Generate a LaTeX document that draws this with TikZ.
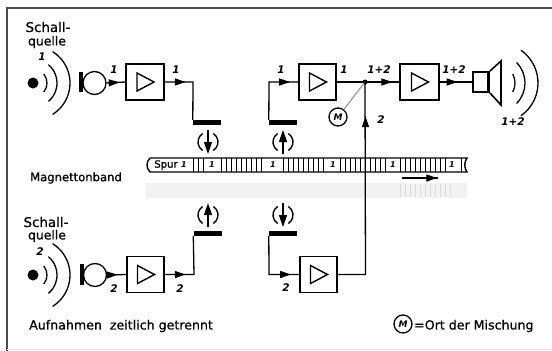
\documentclass[tikz,border=0pt]{standalone}
\usepackage{fontspec}
\setmainfont{DejaVu Sans}
\newfontfamily\blk[FakeBold=0.7]{DejaVu Sans}
\usetikzlibrary{arrows.meta,decorations.markings}
\tikzset{
  x=1pt,y=-1pt,
  wire/.style={line width=1.3pt,line join=miter},
  amp/.style={draw,line width=1.5pt,minimum width=37pt,minimum height=36pt,inner sep=0pt},
  headbar/.style={fill=black,minimum width=28pt,minimum height=5pt,inner sep=0pt},
  mic/.style={circle,draw,line width=1.3pt,minimum size=23pt,inner sep=0pt},
  num/.style={font=\fontsize{10.5}{10}\selectfont\bfseries\itshape,inner sep=0pt},
  txt/.style={font=\blk\fontsize{11.6}{12}\selectfont,inner sep=0pt},
  circm/.style={circle,draw,line width=1.3pt,minimum size=18pt,inner sep=0pt,font=\fontsize{9}{9}\selectfont\bfseries\itshape},
  arrowat/.style={postaction={decorate},decoration={markings,mark=at position #1 with {\arrow{Triangle[length=11pt,width=7pt]}}}},
  wave/.style={line width=1.3pt},
  tick/.style={line width=1pt},
}
\newcommand{\ampl}[4]{\node[amp,minimum width=#4pt] (#1) at (#2,#3) {};
  \draw[line width=1.4pt,line join=miter] ([shift={(-8pt,9pt)}]#1.center) -- ([shift={(9pt,0pt)}]#1.center) -- ([shift={(-8pt,-9pt)}]#1.center) -- cycle;}
\newcommand{\waves}[2]{%
  \draw[wave] (#1,#2) ++(-40:14pt) arc[start angle=-40,end angle=40,radius=14pt];
  \draw[wave] (#1,#2) ++(-50:24pt) arc[start angle=-50,end angle=50,radius=24pt];
  \draw[wave] (#1,#2) ++(-58:37pt) arc[start angle=-58,end angle=58,radius=37pt];}
\newcommand{\rollarcs}[2]{%
  \draw[line width=1.4pt] (#1,#2) ++(-58:10pt) arc[start angle=-58,end angle=58,radius=10pt];
  \draw[line width=1.4pt] (#1,#2) ++(122:10pt) arc[start angle=122,end angle=238,radius=10pt];}
\newcommand{\rolldown}[2]{\rollarcs{#1}{#2}
  \draw[line width=1.3pt,-{Triangle[length=12pt,width=8pt]}] (#1,#2) ++(0pt,12pt) -- ++(0pt,-24pt);}
\newcommand{\rollup}[2]{\rollarcs{#1}{#2}
  \draw[line width=1.3pt,-{Triangle[length=12pt,width=8pt]}] (#1,#2) ++(0pt,-12pt) -- ++(0pt,24pt);}
\begin{document}
\begin{tikzpicture}
\useasboundingbox (0,0) rectangle (552,351);
\fill[white] (0,0) rectangle (552,351);
% frame
\draw[line width=1.2pt,black!70] (7,351) -- (7,8) -- (552,8);
\draw[line width=.8pt,black!12] (7,349) -- (552,349);

% ghost tape
\fill[black!5] (146,183) rectangle (467,198);
\foreach \x in {400,405,...,450} \draw[black!14,line width=1pt] (\x,184) -- (\x,197);

% tape
\draw[line width=1.4pt] (150,158) -- (467,158) .. controls (464,162) and (464,168) .. (467,172) -- (150,172) .. controls (146,168) and (146,162) .. (150,158);
\foreach \x in {193,198,203,221,226,...,263,283,288,...,323,340,345,...,385,400,405,...,445,461}
  \draw[tick] (\x,158) -- (\x,172);
\node[font=\blk\fontsize{10}{10}\selectfont,inner sep=0pt] (spur) at (166,165) {Spur};
\foreach \x/\n in {184/a,212/b,273/c,333/d,393/e,452/f} \node[num,font=\fontsize{8}{8}\selectfont\bfseries\itshape] (t\n) at (\x,165) {1};
\coordinate (tapeL) at (402,178);
\coordinate (tapeR) at (438,178);
\draw[line width=1.3pt,arrowat=.98] (tapeL) -- (tapeR);

% top row
\fill (33,83) circle[radius=5.5pt];
\waves{33}{83}
\node[mic] (mic1) at (94.5,83) {};
\fill (79,72) rectangle (83,92);
\ampl{a1}{145}{82}{38}
\node[headbar,minimum width=28pt] (h1) at (207,122.5) {};
\draw[wire,arrowat=.7] (mic1.east) -- (a1.west);
\draw[wire,arrowat=21pt] (a1.east) -- (193,82) -- (h1.north west);

\node[headbar] (h2) at (283,122.5) {};
\ampl{a2}{317.5}{82}{37}
\draw[wire,arrowat=.88] (h2.north west) -- (269,82) -- (a2.west);
\coordinate (junc) at (365,82);
\draw[wire] (a2.east) -- (junc);
\fill (junc) circle[radius=2.5pt];
\ampl{a3}{419.5}{82}{39}
\draw[wire,arrowat=.8] (junc) -- (a3.west);
\node[draw,line width=1.4pt,minimum width=15pt,minimum height=20pt,inner sep=0pt] (spk) at (480.5,82) {};
\fill (487,71) rectangle (490,93);
\draw[line width=1.6pt] (490,71) -- (501,61) -- (501,105) -- (490,93);
\draw[wire,arrowat=.55] (a3.east) -- (spk.west);
\draw[wave] (496,83) ++(-28:19pt) arc[start angle=-28,end angle=28,radius=19pt];
\draw[wave] (496,83) ++(-45:29pt) arc[start angle=-45,end angle=45,radius=29pt];
\draw[wave] (498,83) ++(-55:40pt) arc[start angle=-55,end angle=55,radius=40pt];
\node[circm] (m) at (338,117) {M};
\draw[line width=1pt,black!45] (junc) -- (m);

% bottom row
\fill (33,275) circle[radius=5.5pt];
\waves{33}{275}
\node[mic] (mic2) at (95,275) {};
\fill (80,264) rectangle (84,285);
\ampl{b1}{145.5}{274.5}{37}
\node[headbar] (h3) at (207.5,233.5) {};
\draw[wire,arrowat=.55] (mic2.east) -- (b1.west);
\draw[wire,arrowat=21pt] (b1.east) -- (194,274.5) -- (h3.south west);
\node[headbar] (h4) at (283,233.5) {};
\ampl{b2}{318.5}{274.5}{37}
\draw[wire,arrowat=.88] (h4.south west) -- (269,274.5) -- (b2.west);
\draw[wire] (b2.east) -- (365.5,274.5) -- (junc);
\coordinate (up2) at (365.5,116);
\draw[line width=1.3pt,arrowat=.99] (365.5,135) -- (up2);

% rollers
\rolldown{208}{142}
\rollup{283}{142}
\rollup{208}{215}
\rolldown{283}{215}

% numbers
\node[num] (n1) at (42,57) {1};
\node[num] (n2) at (114,70) {1};
\node[num] (n3) at (176,70) {1};
\node[num] (n4) at (281,70) {1};
\node[num] (n5) at (344,70) {1};
\node[num] (n6) at (379,70) {1+2};
\node[num] (n7) at (454,70) {1+2};
\node[num] (n8) at (513,122) {1+2};
\node[num] (n9) at (381,120) {2};
\node[num] (n10) at (40,252) {2};
\node[num] (n11) at (114,289) {2};
\node[num] (n12) at (180,289) {2};
\node[num] (n13) at (286,288) {2};

% texts
\node[txt,font=\blk\fontsize{13.4}{12}\selectfont] (s1a) at (48,27) {Schall-};
\node[txt,font=\blk\fontsize{12.4}{12}\selectfont] (s1b) at (47,42) {quelle};
\node[txt,font=\blk\fontsize{13.4}{12}\selectfont] (s2a) at (46,222) {Schall-};
\node[txt,font=\blk\fontsize{12.4}{12}\selectfont] (s2b) at (47,236) {quelle};
\node[txt] (mt) at (76,178) {Magnettonband};
\node[txt,anchor=west,font=\blk\fontsize{12.6}{12}\selectfont] (auf) at (29,326) {Aufnahmen\hspace{8pt}zeitlich getrennt};
\node[circm] (m2) at (403,324) {M};
\node[txt,anchor=west,font=\blk\fontsize{12.6}{12}\selectfont] (leg) at (414,326) {=Ort der Mischung};
\end{tikzpicture}
\end{document}
